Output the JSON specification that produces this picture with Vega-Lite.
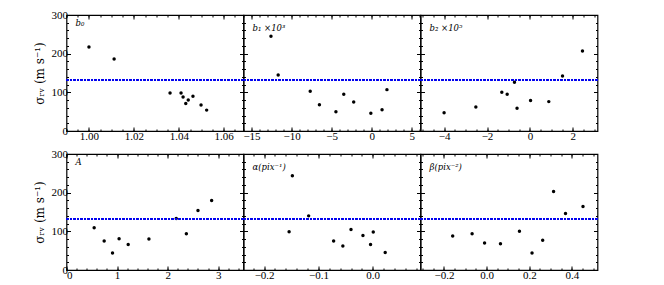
{
  "$schema": "https://vega.github.io/schema/vega-lite/v6.json",
  "padding": {"left": 31.5, "top": 8, "right": 5, "bottom": 5},
  "config": {
    "view": {"stroke": "black", "strokeWidth": 1.2},
    "font": "Liberation Serif",
    "axis": {"domain": false, "grid": false, "tickColor": "black", "tickWidth": 1, "labelFont": "Liberation Serif", "labelFontSize": 11, "labelColor": "black", "titleFont": "DejaVu Serif", "titleFontSize": 12, "titleFontWeight": "normal", "titleColor": "black"},
    "title": {"font": "DejaVu Serif", "fontSize": 8.5, "fontStyle": "italic", "fontWeight": "normal", "color": "black", "anchor": "start", "frame": "group"}
  },
  "data": {"values": [
    {"p": "b0", "x": 1.000, "y": 217}, {"p": "b0", "x": 1.0112, "y": 186}, {"p": "b0", "x": 1.0361, "y": 98}, {"p": "b0", "x": 1.0410, "y": 98}, {"p": "b0", "x": 1.0419, "y": 88}, {"p": "b0", "x": 1.0431, "y": 71}, {"p": "b0", "x": 1.0442, "y": 80}, {"p": "b0", "x": 1.0463, "y": 90}, {"p": "b0", "x": 1.0499, "y": 67}, {"p": "b0", "x": 1.0524, "y": 54},
    {"p": "b1", "x": -12.57, "y": 245}, {"p": "b1", "x": -11.67, "y": 145}, {"p": "b1", "x": -7.67, "y": 103}, {"p": "b1", "x": -6.52, "y": 68}, {"p": "b1", "x": -4.46, "y": 50}, {"p": "b1", "x": -3.48, "y": 95}, {"p": "b1", "x": -2.24, "y": 75}, {"p": "b1", "x": -0.10, "y": 46}, {"p": "b1", "x": 1.30, "y": 55}, {"p": "b1", "x": 1.91, "y": 107},
    {"p": "b2", "x": -4.0, "y": 47}, {"p": "b2", "x": -2.52, "y": 62}, {"p": "b2", "x": -1.31, "y": 100}, {"p": "b2", "x": -1.06, "y": 95}, {"p": "b2", "x": -0.72, "y": 126}, {"p": "b2", "x": -0.60, "y": 59}, {"p": "b2", "x": 0.03, "y": 79}, {"p": "b2", "x": 0.88, "y": 76}, {"p": "b2", "x": 1.52, "y": 142}, {"p": "b2", "x": 2.45, "y": 207},
    {"p": "A", "x": 0.547, "y": 109}, {"p": "A", "x": 0.745, "y": 75}, {"p": "A", "x": 0.91, "y": 44}, {"p": "A", "x": 1.04, "y": 81}, {"p": "A", "x": 1.22, "y": 66}, {"p": "A", "x": 1.63, "y": 80}, {"p": "A", "x": 2.17, "y": 133}, {"p": "A", "x": 2.37, "y": 94}, {"p": "A", "x": 2.60, "y": 154}, {"p": "A", "x": 2.87, "y": 180},
    {"p": "al", "x": -0.148, "y": 244}, {"p": "al", "x": -0.154, "y": 99}, {"p": "al", "x": -0.118, "y": 140}, {"p": "al", "x": -0.072, "y": 75}, {"p": "al", "x": -0.055, "y": 62}, {"p": "al", "x": -0.040, "y": 105}, {"p": "al", "x": -0.018, "y": 89}, {"p": "al", "x": -0.004, "y": 66}, {"p": "al", "x": 0.001, "y": 98}, {"p": "al", "x": 0.023, "y": 45},
    {"p": "be", "x": -0.159, "y": 88}, {"p": "be", "x": -0.068, "y": 94}, {"p": "be", "x": -0.0095, "y": 70}, {"p": "be", "x": 0.065, "y": 68}, {"p": "be", "x": 0.154, "y": 100}, {"p": "be", "x": 0.213, "y": 44}, {"p": "be", "x": 0.263, "y": 77}, {"p": "be", "x": 0.314, "y": 203}, {"p": "be", "x": 0.370, "y": 146}, {"p": "be", "x": 0.452, "y": 164}
  ]},
  "columns": 3,
  "spacing": {"row": 23, "column": 0},
  "bounds": "flush",
  "concat": [
    {
      "width": 177, "height": 116,
      "title": {"text": "b₀", "offset": -18, "dx": 9},
      "transform": [{"filter": "datum.p == 'b0'"}],
      "layer": [
        {"mark": {"type": "point", "filled": true, "color": "black", "size": 12, "opacity": 1},
         "encoding": {
           "x": {"field": "x", "type": "quantitative", "scale": {"domain": [0.99, 1.0688], "nice": false, "zero": false}, "axis": {"title": null, "values": [1, 1.02, 1.04, 1.06], "format": ".2f", "tickSize": -4, "labelPadding": 3}},
           "y": {"field": "y", "type": "quantitative", "scale": {"domain": [0, 300], "nice": false}, "axis": {"title": "σᵣᵥ (m s⁻¹)", "values": [0, 100, 200, 300], "tickSize": -4, "labelPadding": 3, "titlePadding": 5}}}},
        {"mark": {"type": "point", "opacity": 0},
         "encoding": {
           "x": {"field": "x", "type": "quantitative", "scale": {"domain": [0.99, 1.0688], "nice": false, "zero": false}, "axis": {"orient": "top", "title": null, "labels": false, "values": [1, 1.02, 1.04, 1.06], "tickSize": -4}},
           "y": {"field": "y", "type": "quantitative", "scale": {"domain": [0, 300], "nice": false}, "axis": {"orient": "right", "title": null, "labels": false, "values": [0, 100, 200, 300], "tickSize": -4}}}},
        {"mark": {"type": "point", "opacity": 0},
         "encoding": {
           "x": {"field": "x", "type": "quantitative", "scale": {"domain": [0.99, 1.0688], "nice": false, "zero": false}, "axis": {"orient": "bottom", "title": null, "labels": false, "values": [0.99, 0.995, 1.0, 1.005, 1.01, 1.015, 1.02, 1.025, 1.03, 1.035, 1.04, 1.045, 1.05, 1.055, 1.06, 1.065], "tickSize": -2}},
           "y": {"field": "y", "type": "quantitative", "scale": {"domain": [0, 300], "nice": false}, "axis": {"orient": "left", "title": null, "labels": false, "values": [0, 20, 40, 60, 80, 100, 120, 140, 160, 180, 200, 220, 240, 260, 280, 300], "tickSize": -2}}}},
        {"mark": {"type": "point", "opacity": 0},
         "encoding": {
           "x": {"field": "x", "type": "quantitative", "scale": {"domain": [0.99, 1.0688], "nice": false, "zero": false}, "axis": {"orient": "top", "title": null, "labels": false, "values": [0.99, 0.995, 1.0, 1.005, 1.01, 1.015, 1.02, 1.025, 1.03, 1.035, 1.04, 1.045, 1.05, 1.055, 1.06, 1.065], "tickSize": -2}},
           "y": {"field": "y", "type": "quantitative", "scale": {"domain": [0, 300], "nice": false}, "axis": {"orient": "right", "title": null, "labels": false, "values": [0, 20, 40, 60, 80, 100, 120, 140, 160, 180, 200, 220, 240, 260, 280, 300], "tickSize": -2}}}},
        {"mark": {"type": "rule", "color": "#0000ee", "strokeDash": [2, 1.5], "strokeWidth": 1.2},
         "encoding": {"y": {"datum": 132, "type": "quantitative", "scale": {"domain": [0, 300], "nice": false}, "axis": null}}}
      ],
      "resolve": {"axis": {"x": "independent", "y": "independent"}}
    },
    {
      "width": 177, "height": 116,
      "title": {"text": "b₁ ×10³", "offset": -18, "dx": 9},
      "transform": [{"filter": "datum.p == 'b1'"}],
      "layer": [
        {"mark": {"type": "point", "filled": true, "color": "black", "size": 12, "opacity": 1},
         "encoding": {
           "x": {"field": "x", "type": "quantitative", "scale": {"domain": [-16, 6.1], "nice": false, "zero": false}, "axis": {"title": null, "values": [-15, -10, -5, 0, 5], "tickSize": -4, "labelPadding": 3}},
           "y": {"field": "y", "type": "quantitative", "scale": {"domain": [0, 300], "nice": false}, "axis": {"title": null, "labels": false, "values": [0, 100, 200, 300], "tickSize": -4}}}},
        {"mark": {"type": "point", "opacity": 0},
         "encoding": {
           "x": {"field": "x", "type": "quantitative", "scale": {"domain": [-16, 6.1], "nice": false, "zero": false}, "axis": {"orient": "top", "title": null, "labels": false, "values": [-15, -10, -5, 0, 5], "tickSize": -4}},
           "y": {"field": "y", "type": "quantitative", "scale": {"domain": [0, 300], "nice": false}, "axis": {"orient": "right", "title": null, "labels": false, "values": [0, 100, 200, 300], "tickSize": -4}}}},
        {"mark": {"type": "point", "opacity": 0},
         "encoding": {
           "x": {"field": "x", "type": "quantitative", "scale": {"domain": [-16, 6.1], "nice": false, "zero": false}, "axis": {"orient": "bottom", "title": null, "labels": false, "values": [-16, -15, -14, -13, -12, -11, -10, -9, -8, -7, -6, -5, -4, -3, -2, -1, 0, 1, 2, 3, 4, 5, 6], "tickSize": -2}},
           "y": {"field": "y", "type": "quantitative", "scale": {"domain": [0, 300], "nice": false}, "axis": {"orient": "left", "title": null, "labels": false, "values": [0, 20, 40, 60, 80, 100, 120, 140, 160, 180, 200, 220, 240, 260, 280, 300], "tickSize": -2}}}},
        {"mark": {"type": "point", "opacity": 0},
         "encoding": {
           "x": {"field": "x", "type": "quantitative", "scale": {"domain": [-16, 6.1], "nice": false, "zero": false}, "axis": {"orient": "top", "title": null, "labels": false, "values": [-16, -15, -14, -13, -12, -11, -10, -9, -8, -7, -6, -5, -4, -3, -2, -1, 0, 1, 2, 3, 4, 5, 6], "tickSize": -2}},
           "y": {"field": "y", "type": "quantitative", "scale": {"domain": [0, 300], "nice": false}, "axis": {"orient": "right", "title": null, "labels": false, "values": [0, 20, 40, 60, 80, 100, 120, 140, 160, 180, 200, 220, 240, 260, 280, 300], "tickSize": -2}}}},
        {"mark": {"type": "rule", "color": "#0000ee", "strokeDash": [2, 1.5], "strokeWidth": 1.2},
         "encoding": {"y": {"datum": 132, "type": "quantitative", "scale": {"domain": [0, 300], "nice": false}, "axis": null}}}
      ],
      "resolve": {"axis": {"x": "independent", "y": "independent"}}
    },
    {
      "width": 177, "height": 116,
      "title": {"text": "b₂ ×10⁵", "offset": -18, "dx": 9},
      "transform": [{"filter": "datum.p == 'b2'"}],
      "layer": [
        {"mark": {"type": "point", "filled": true, "color": "black", "size": 12, "opacity": 1},
         "encoding": {
           "x": {"field": "x", "type": "quantitative", "scale": {"domain": [-5.1, 3.15], "nice": false, "zero": false}, "axis": {"title": null, "values": [-4, -2, 0, 2], "tickSize": -4, "labelPadding": 3}},
           "y": {"field": "y", "type": "quantitative", "scale": {"domain": [0, 300], "nice": false}, "axis": {"title": null, "labels": false, "values": [0, 100, 200, 300], "tickSize": -4}}}},
        {"mark": {"type": "point", "opacity": 0},
         "encoding": {
           "x": {"field": "x", "type": "quantitative", "scale": {"domain": [-5.1, 3.15], "nice": false, "zero": false}, "axis": {"orient": "top", "title": null, "labels": false, "values": [-4, -2, 0, 2], "tickSize": -4}},
           "y": {"field": "y", "type": "quantitative", "scale": {"domain": [0, 300], "nice": false}, "axis": {"orient": "right", "title": null, "labels": false, "values": [0, 100, 200, 300], "tickSize": -4}}}},
        {"mark": {"type": "point", "opacity": 0},
         "encoding": {
           "x": {"field": "x", "type": "quantitative", "scale": {"domain": [-5.1, 3.15], "nice": false, "zero": false}, "axis": {"orient": "bottom", "title": null, "labels": false, "values": [-5, -4.5, -4, -3.5, -3, -2.5, -2, -1.5, -1, -0.5, 0, 0.5, 1, 1.5, 2, 2.5, 3], "tickSize": -2}},
           "y": {"field": "y", "type": "quantitative", "scale": {"domain": [0, 300], "nice": false}, "axis": {"orient": "left", "title": null, "labels": false, "values": [0, 20, 40, 60, 80, 100, 120, 140, 160, 180, 200, 220, 240, 260, 280, 300], "tickSize": -2}}}},
        {"mark": {"type": "point", "opacity": 0},
         "encoding": {
           "x": {"field": "x", "type": "quantitative", "scale": {"domain": [-5.1, 3.15], "nice": false, "zero": false}, "axis": {"orient": "top", "title": null, "labels": false, "values": [-5, -4.5, -4, -3.5, -3, -2.5, -2, -1.5, -1, -0.5, 0, 0.5, 1, 1.5, 2, 2.5, 3], "tickSize": -2}},
           "y": {"field": "y", "type": "quantitative", "scale": {"domain": [0, 300], "nice": false}, "axis": {"orient": "right", "title": null, "labels": false, "values": [0, 20, 40, 60, 80, 100, 120, 140, 160, 180, 200, 220, 240, 260, 280, 300], "tickSize": -2}}}},
        {"mark": {"type": "rule", "color": "#0000ee", "strokeDash": [2, 1.5], "strokeWidth": 1.2},
         "encoding": {"y": {"datum": 132, "type": "quantitative", "scale": {"domain": [0, 300], "nice": false}, "axis": null}}}
      ],
      "resolve": {"axis": {"x": "independent", "y": "independent"}}
    },
    {
      "width": 177, "height": 116,
      "title": {"text": "A", "offset": -18, "dx": 9},
      "transform": [{"filter": "datum.p == 'A'"}],
      "layer": [
        {"mark": {"type": "point", "filled": true, "color": "black", "size": 12, "opacity": 1},
         "encoding": {
           "x": {"field": "x", "type": "quantitative", "scale": {"domain": [0, 3.5], "nice": false, "zero": false}, "axis": {"title": null, "values": [0, 1, 2, 3], "tickSize": -4, "labelPadding": 3}},
           "y": {"field": "y", "type": "quantitative", "scale": {"domain": [0, 300], "nice": false}, "axis": {"title": "σᵣᵥ (m s⁻¹)", "values": [0, 100, 200, 300], "tickSize": -4, "labelPadding": 3, "titlePadding": 5}}}},
        {"mark": {"type": "point", "opacity": 0},
         "encoding": {
           "x": {"field": "x", "type": "quantitative", "scale": {"domain": [0, 3.5], "nice": false, "zero": false}, "axis": {"orient": "top", "title": null, "labels": false, "values": [0, 1, 2, 3], "tickSize": -4}},
           "y": {"field": "y", "type": "quantitative", "scale": {"domain": [0, 300], "nice": false}, "axis": {"orient": "right", "title": null, "labels": false, "values": [0, 100, 200, 300], "tickSize": -4}}}},
        {"mark": {"type": "point", "opacity": 0},
         "encoding": {
           "x": {"field": "x", "type": "quantitative", "scale": {"domain": [0, 3.5], "nice": false, "zero": false}, "axis": {"orient": "bottom", "title": null, "labels": false, "values": [0, 0.2, 0.4, 0.6, 0.8, 1, 1.2, 1.4, 1.6, 1.8, 2, 2.2, 2.4, 2.6, 2.8, 3, 3.2, 3.4], "tickSize": -2}},
           "y": {"field": "y", "type": "quantitative", "scale": {"domain": [0, 300], "nice": false}, "axis": {"orient": "left", "title": null, "labels": false, "values": [0, 20, 40, 60, 80, 100, 120, 140, 160, 180, 200, 220, 240, 260, 280, 300], "tickSize": -2}}}},
        {"mark": {"type": "point", "opacity": 0},
         "encoding": {
           "x": {"field": "x", "type": "quantitative", "scale": {"domain": [0, 3.5], "nice": false, "zero": false}, "axis": {"orient": "top", "title": null, "labels": false, "values": [0, 0.2, 0.4, 0.6, 0.8, 1, 1.2, 1.4, 1.6, 1.8, 2, 2.2, 2.4, 2.6, 2.8, 3, 3.2, 3.4], "tickSize": -2}},
           "y": {"field": "y", "type": "quantitative", "scale": {"domain": [0, 300], "nice": false}, "axis": {"orient": "right", "title": null, "labels": false, "values": [0, 20, 40, 60, 80, 100, 120, 140, 160, 180, 200, 220, 240, 260, 280, 300], "tickSize": -2}}}},
        {"mark": {"type": "rule", "color": "#0000ee", "strokeDash": [2, 1.5], "strokeWidth": 1.2},
         "encoding": {"y": {"datum": 132, "type": "quantitative", "scale": {"domain": [0, 300], "nice": false}, "axis": null}}}
      ],
      "resolve": {"axis": {"x": "independent", "y": "independent"}}
    },
    {
      "width": 177, "height": 116,
      "title": {"text": "α(pix⁻¹)", "offset": -18, "dx": 9},
      "transform": [{"filter": "datum.p == 'al'"}],
      "layer": [
        {"mark": {"type": "point", "filled": true, "color": "black", "size": 12, "opacity": 1},
         "encoding": {
           "x": {"field": "x", "type": "quantitative", "scale": {"domain": [-0.238, 0.088], "nice": false, "zero": false}, "axis": {"title": null, "values": [-0.2, -0.1, 0], "format": ".1f", "tickSize": -4, "labelPadding": 3}},
           "y": {"field": "y", "type": "quantitative", "scale": {"domain": [0, 300], "nice": false}, "axis": {"title": null, "labels": false, "values": [0, 100, 200, 300], "tickSize": -4}}}},
        {"mark": {"type": "point", "opacity": 0},
         "encoding": {
           "x": {"field": "x", "type": "quantitative", "scale": {"domain": [-0.238, 0.088], "nice": false, "zero": false}, "axis": {"orient": "top", "title": null, "labels": false, "values": [-0.2, -0.1, 0], "tickSize": -4}},
           "y": {"field": "y", "type": "quantitative", "scale": {"domain": [0, 300], "nice": false}, "axis": {"orient": "right", "title": null, "labels": false, "values": [0, 100, 200, 300], "tickSize": -4}}}},
        {"mark": {"type": "point", "opacity": 0},
         "encoding": {
           "x": {"field": "x", "type": "quantitative", "scale": {"domain": [-0.238, 0.088], "nice": false, "zero": false}, "axis": {"orient": "bottom", "title": null, "labels": false, "values": [-0.22, -0.2, -0.18, -0.16, -0.14, -0.12, -0.1, -0.08, -0.06, -0.04, -0.02, 0, 0.02, 0.04, 0.06, 0.08], "tickSize": -2}},
           "y": {"field": "y", "type": "quantitative", "scale": {"domain": [0, 300], "nice": false}, "axis": {"orient": "left", "title": null, "labels": false, "values": [0, 20, 40, 60, 80, 100, 120, 140, 160, 180, 200, 220, 240, 260, 280, 300], "tickSize": -2}}}},
        {"mark": {"type": "point", "opacity": 0},
         "encoding": {
           "x": {"field": "x", "type": "quantitative", "scale": {"domain": [-0.238, 0.088], "nice": false, "zero": false}, "axis": {"orient": "top", "title": null, "labels": false, "values": [-0.22, -0.2, -0.18, -0.16, -0.14, -0.12, -0.1, -0.08, -0.06, -0.04, -0.02, 0, 0.02, 0.04, 0.06, 0.08], "tickSize": -2}},
           "y": {"field": "y", "type": "quantitative", "scale": {"domain": [0, 300], "nice": false}, "axis": {"orient": "right", "title": null, "labels": false, "values": [0, 20, 40, 60, 80, 100, 120, 140, 160, 180, 200, 220, 240, 260, 280, 300], "tickSize": -2}}}},
        {"mark": {"type": "rule", "color": "#0000ee", "strokeDash": [2, 1.5], "strokeWidth": 1.2},
         "encoding": {"y": {"datum": 132, "type": "quantitative", "scale": {"domain": [0, 300], "nice": false}, "axis": null}}}
      ],
      "resolve": {"axis": {"x": "independent", "y": "independent"}}
    },
    {
      "width": 177, "height": 116,
      "title": {"text": "β(pix⁻²)", "offset": -18, "dx": 9},
      "transform": [{"filter": "datum.p == 'be'"}],
      "layer": [
        {"mark": {"type": "point", "filled": true, "color": "black", "size": 12, "opacity": 1},
         "encoding": {
           "x": {"field": "x", "type": "quantitative", "scale": {"domain": [-0.31, 0.52], "nice": false, "zero": false}, "axis": {"title": null, "values": [-0.2, 0, 0.2, 0.4], "format": ".1f", "tickSize": -4, "labelPadding": 3}},
           "y": {"field": "y", "type": "quantitative", "scale": {"domain": [0, 300], "nice": false}, "axis": {"title": null, "labels": false, "values": [0, 100, 200, 300], "tickSize": -4}}}},
        {"mark": {"type": "point", "opacity": 0},
         "encoding": {
           "x": {"field": "x", "type": "quantitative", "scale": {"domain": [-0.31, 0.52], "nice": false, "zero": false}, "axis": {"orient": "top", "title": null, "labels": false, "values": [-0.2, 0, 0.2, 0.4], "tickSize": -4}},
           "y": {"field": "y", "type": "quantitative", "scale": {"domain": [0, 300], "nice": false}, "axis": {"orient": "right", "title": null, "labels": false, "values": [0, 100, 200, 300], "tickSize": -4}}}},
        {"mark": {"type": "point", "opacity": 0},
         "encoding": {
           "x": {"field": "x", "type": "quantitative", "scale": {"domain": [-0.31, 0.52], "nice": false, "zero": false}, "axis": {"orient": "bottom", "title": null, "labels": false, "values": [-0.3, -0.25, -0.2, -0.15, -0.1, -0.05, 0, 0.05, 0.1, 0.15, 0.2, 0.25, 0.3, 0.35, 0.4, 0.45, 0.5], "tickSize": -2}},
           "y": {"field": "y", "type": "quantitative", "scale": {"domain": [0, 300], "nice": false}, "axis": {"orient": "left", "title": null, "labels": false, "values": [0, 20, 40, 60, 80, 100, 120, 140, 160, 180, 200, 220, 240, 260, 280, 300], "tickSize": -2}}}},
        {"mark": {"type": "point", "opacity": 0},
         "encoding": {
           "x": {"field": "x", "type": "quantitative", "scale": {"domain": [-0.31, 0.52], "nice": false, "zero": false}, "axis": {"orient": "top", "title": null, "labels": false, "values": [-0.3, -0.25, -0.2, -0.15, -0.1, -0.05, 0, 0.05, 0.1, 0.15, 0.2, 0.25, 0.3, 0.35, 0.4, 0.45, 0.5], "tickSize": -2}},
           "y": {"field": "y", "type": "quantitative", "scale": {"domain": [0, 300], "nice": false}, "axis": {"orient": "right", "title": null, "labels": false, "values": [0, 20, 40, 60, 80, 100, 120, 140, 160, 180, 200, 220, 240, 260, 280, 300], "tickSize": -2}}}},
        {"mark": {"type": "rule", "color": "#0000ee", "strokeDash": [2, 1.5], "strokeWidth": 1.2},
         "encoding": {"y": {"datum": 132, "type": "quantitative", "scale": {"domain": [0, 300], "nice": false}, "axis": null}}}
      ],
      "resolve": {"axis": {"x": "independent", "y": "independent"}}
    }
  ]
}
